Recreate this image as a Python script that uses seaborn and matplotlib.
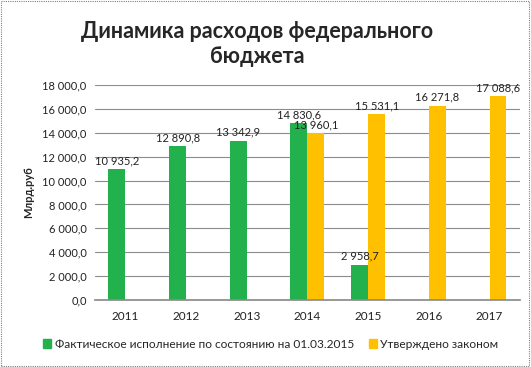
import matplotlib
matplotlib.use("Agg")
import matplotlib.pyplot as plt
import seaborn as sns
import pandas as pd
import numpy as np
from matplotlib.patches import Rectangle
from matplotlib.ticker import FuncFormatter, FixedLocator

years = ["2011", "2012", "2013", "2014", "2015", "2016", "2017"]
series_names = ["Фактическое исполнение по состоянию на 01.03.2015", "Утверждено законом"]
actual = [10935.2, 12890.8, 13342.9, 14830.6, 2958.7, None, None]
approved = [None, None, None, 13960.1, 15531.1, 16271.8, 17088.6]
colors = ["#22b14c", "#ffc000"]
title = "Динамика расходов федерального\nбюджета"
ylabel = "Млрд.руб"

rows = []
for y, a, b in zip(years, actual, approved):
    if a is not None:
        rows.append((y, series_names[0], a))
    if b is not None:
        rows.append((y, series_names[1], b))
df = pd.DataFrame(rows, columns=["year", "series", "value"])

sns.set_theme(style="white")
plt.rcParams['font.family'] = ['Lato', 'DejaVu Sans']

fig = plt.figure(figsize=(5.31, 3.67), dpi=100)
ax = fig.add_axes([0.179, 0.1826, 0.80, 0.5858])

sns.barplot(data=df, x="year", y="value", hue="series", order=years,
            hue_order=series_names, palette=colors, width=0.56, dodge=True,
            ax=ax, saturation=1, edgecolor="none", legend=True)

def fmt(v):
    s = f"{v:,.1f}".replace(",", " ").replace(".", ",")
    return s

ax.set_ylim(0, 18000)
ax.set_xlim(-0.5, len(years) - 0.5)
ax.set_yticks(np.arange(0, 18001, 2000))
ax.yaxis.set_major_formatter(FuncFormatter(lambda v, p: fmt(v)))
ax.grid(axis="y", color="#8c8c8c", linewidth=0.8)
ax.set_axisbelow(True)
for s in ["top", "right", "left"]:
    ax.spines[s].set_visible(False)
ax.spines["bottom"].set_color("#8c8c8c")
ax.tick_params(axis="y", length=0, labelsize=8, pad=6, colors="#222222")
ax.tick_params(axis="x", length=0, labelsize=8.5, pad=8, colors="#222222")
ax.xaxis.set_minor_locator(FixedLocator(np.arange(-0.5, len(years), 1.0)))
ax.tick_params(axis="x", which="minor", length=4, color="#8c8c8c", direction="out")
ax.set_xlabel("")
ax.set_ylabel(ylabel, fontsize=8, fontweight="bold", labelpad=6)

for cont in ax.containers:
    labels = [fmt(b.get_height()) if b.get_height() > 0 else "" for b in cont]
    ax.bar_label(cont, labels=labels, fontsize=8, padding=2, color="#222222")

leg = ax.get_legend()
leg.remove()
handles = [Rectangle((0, 0), 1, 1, color=c) for c in colors]
fig.legend(handles, series_names, loc="center", bbox_to_anchor=(0.51, 0.062),
           ncol=2, frameon=False, fontsize=8.6, handlelength=0.7, handleheight=0.7,
           handletextpad=0.3, columnspacing=1.2)

fig.text(0.485, 0.88, title, ha="center", va="center", fontsize=15.5,
         fontweight="bold", linespacing=1.2)

fig.patches.append(Rectangle((0.002, 0.003), 0.995, 0.993, transform=fig.transFigure,
                             fill=False, edgecolor="#808080", linewidth=0.8,
                             linestyle=(0, (1, 1))))

fig.savefig("out.png", dpi=100)
